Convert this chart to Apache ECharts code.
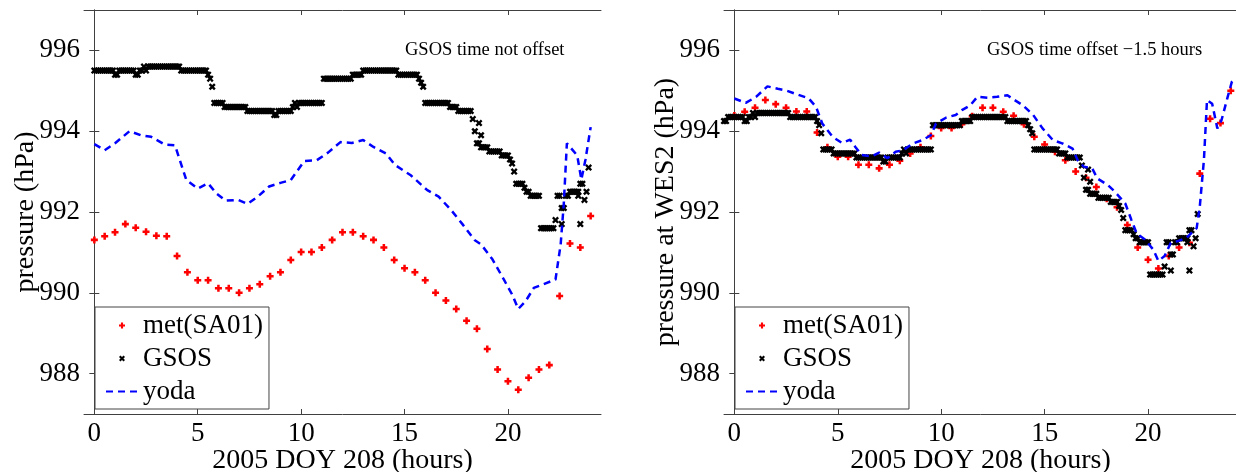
<!DOCTYPE html>
<html><head><meta charset="utf-8">
<script src="https://cdn.jsdelivr.net/npm/echarts@6/dist/echarts.min.js"></script>
<style>html,body{margin:0;padding:0;background:#fff}#c{width:1236px;height:472px}</style>
</head><body><div id="c"></div><script>
// ---------------- data ----------------
const xTicks = [0, 5, 10, 15, 20];
const yTicks = [988, 990, 992, 994, 996];

const metHours = [0,0.5,1,1.5,2,2.5,3,3.5,4,4.5,5,5.5,6,6.5,7,7.5,8,8.5,9,9.5,10,10.5,11,11.5,12,12.5,13,13.5,14,14.5,15,15.5,16,16.5,17,17.5,18,18.5,19,19.5,20,20.5,21,21.5,22,22.5,23,23.5,24];
const metLeft = [991.31,991.40,991.50,991.70,991.61,991.51,991.41,991.40,990.91,990.51,990.31,990.31,990.11,990.11,990.00,990.11,990.21,990.41,990.51,990.81,991.01,991.01,991.12,991.31,991.50,991.50,991.40,991.31,991.12,990.81,990.61,990.51,990.31,990.00,989.81,989.60,989.31,989.11,988.61,988.10,987.81,987.60,987.90,988.10,988.21,989.92,991.22,991.12,991.90];
const metRight = [994.39,994.48,994.58,994.77,994.67,994.58,994.49,994.49,993.97,993.60,993.37,993.37,993.17,993.17,993.08,993.17,993.27,993.45,993.60,993.88,994.08,994.08,994.17,994.37,994.58,994.58,994.48,994.38,994.17,993.86,993.67,993.49,993.28,993.00,992.85,992.62,992.33,992.12,991.68,991.12,990.82,990.60,990.91,991.12,991.24,992.95,994.31,994.20,995.00];

// GSOS samples every 0.1 h
const gsosStep = 0.1;
const gsosLeftStart = 0;      // time not offset
const gsosRightStart = -1.5;  // time offset -1.5 hours
const gsosLeft = [
995.5,995.5,995.5,995.5,995.5,995.5,995.5,995.5,995.5,995.5,
995.4,995.4,995.5,995.5,995.5,995.5,995.5,995.5,995.5,995.5,
995.4,995.4,995.5,995.5,995.6,995.5,995.6,995.6,995.6,995.6,
995.6,995.6,995.6,995.6,995.6,995.6,995.6,995.6,995.6,995.6,
995.6,995.6,995.5,995.5,995.5,995.5,995.5,995.5,995.5,995.5,
995.5,995.5,995.5,995.5,995.5,995.4,995.3,995.1,994.7,994.7,
994.7,994.7,994.7,994.6,994.6,994.6,994.6,994.6,994.6,994.6,
994.6,994.6,994.6,994.6,994.5,994.5,994.5,994.5,994.5,994.5,
994.5,994.5,994.5,994.5,994.5,994.5,994.5,994.4,994.4,994.5,
994.5,994.5,994.5,994.5,994.5,994.5,994.6,994.7,994.6,994.7,
994.7,994.7,994.7,994.7,994.7,994.7,994.7,994.7,994.7,994.7,
994.7,995.3,995.3,995.3,995.3,995.3,995.3,995.3,995.3,995.3,
995.3,995.3,995.3,995.3,995.3,995.4,995.4,995.4,995.4,995.4,
995.5,995.5,995.5,995.5,995.5,995.5,995.5,995.5,995.5,995.5,
995.5,995.5,995.5,995.5,995.5,995.5,995.5,995.4,995.4,995.4,
995.4,995.4,995.4,995.4,995.4,995.4,995.4,995.3,995.2,995.1,
994.7,994.7,994.7,994.7,994.7,994.7,994.7,994.7,994.7,994.7,
994.7,994.7,994.6,994.6,994.6,994.6,994.5,994.5,994.5,994.5,
994.5,994.5,994.5,994.3,994.0,993.7,993.7,993.6,993.6,993.6,
993.6,993.5,993.5,993.5,993.5,993.5,993.5,993.4,993.4,993.4,
993.4,993.3,993.2,993.0,992.7,992.7,992.7,992.7,992.6,992.5,
992.5,992.4,992.4,992.4,992.4,992.4,991.6,991.6,991.6,991.6,
991.6,991.6,991.6,991.8,992.4,992.4,992.1,992.1,992.4,992.4,
992.5,992.5,992.5,992.5,992.5,992.7,992.7,992.3,992.5,993.1];
const gsosLeftExtra = [[18.6,994.2],[18.7,993.9],[22.6,991.7],[23.4,992.4],[23.5,991.7]];
const gsosRight = [
994.35,994.35,994.35,994.35,994.35,994.35,994.35,994.35,994.35,994.35,
994.25,994.25,994.35,994.35,994.35,994.35,994.35,994.35,994.35,994.35,
994.25,994.25,994.35,994.35,994.45,994.35,994.45,994.45,994.45,994.45,
994.45,994.45,994.45,994.45,994.45,994.45,994.45,994.45,994.45,994.45,
994.45,994.45,994.35,994.35,994.35,994.35,994.35,994.35,994.35,994.35,
994.35,994.35,994.35,994.35,994.35,994.25,994.15,993.95,993.55,993.55,
993.55,993.55,993.55,993.45,993.45,993.45,993.45,993.45,993.45,993.45,
993.45,993.45,993.45,993.45,993.35,993.35,993.35,993.35,993.35,993.35,
993.35,993.35,993.35,993.35,993.35,993.35,993.35,993.25,993.25,993.35,
993.35,993.35,993.35,993.35,993.35,993.35,993.45,993.55,993.45,993.55,
993.55,993.55,993.55,993.55,993.55,993.55,993.55,993.55,993.55,993.55,
993.55,994.15,994.15,994.15,994.15,994.15,994.15,994.15,994.15,994.15,
994.15,994.15,994.15,994.15,994.15,994.25,994.25,994.25,994.25,994.25,
994.35,994.35,994.35,994.35,994.35,994.35,994.35,994.35,994.35,994.35,
994.35,994.35,994.35,994.35,994.35,994.35,994.35,994.25,994.25,994.25,
994.25,994.25,994.25,994.25,994.25,994.25,994.25,994.15,994.05,993.95,
993.55,993.55,993.55,993.55,993.55,993.55,993.55,993.55,993.55,993.55,
993.55,993.55,993.45,993.45,993.45,993.45,993.35,993.35,993.35,993.35,
993.35,993.35,993.35,993.15,992.85,992.55,992.55,992.45,992.45,992.45,
992.45,992.35,992.35,992.35,992.35,992.35,992.35,992.25,992.25,992.25,
992.25,992.15,992.05,991.85,991.55,991.55,991.55,991.55,991.45,991.35,
991.35,991.25,991.25,991.25,991.25,991.25,990.45,990.45,990.45,990.45,
990.45,990.45,990.45,990.65,991.25,991.25,990.95,990.95,991.25,991.25,
991.35,991.35,991.35,991.35,991.35,991.55,991.55,991.15,991.35,991.95];
const gsosRightExtra = [[17.1,993.05],[17.2,992.75],[21.1,990.55],[21.9,991.25],[22.0,990.55]];

const yodaLeft = [[0,993.68],[0.5,993.53],[1.0,993.70],[1.7,994.00],[2.25,993.90],[2.75,993.86],[3.4,993.67],[3.9,993.65],[4.45,992.79],[5.0,992.58],[5.5,992.71],[5.9,992.46],[6.35,992.28],[6.95,992.30],[7.4,992.20],[7.9,992.38],[8.45,992.63],[9.0,992.72],[9.5,992.79],[10.15,993.26],[10.75,993.28],[11.3,993.47],[11.9,993.73],[12.45,993.71],[13.0,993.78],[13.5,993.61],[14.1,993.45],[14.55,993.16],[15.3,992.91],[16.1,992.54],[16.65,992.38],[17.25,992.05],[17.8,991.70],[18.1,991.50],[18.4,991.30],[18.7,991.20],[19.25,990.83],[19.8,990.33],[20.2,989.96],[20.5,989.60],[20.85,989.79],[21.25,990.12],[21.7,990.21],[22.3,990.33],[22.55,991.20],[22.7,992.20],[22.85,993.70],[23.1,993.55],[23.35,993.40],[23.55,992.80],[23.75,993.30],[24.0,994.10]];
const yodaRight = [[0,994.81],[0.55,994.70],[1.05,994.85],[1.6,995.11],[2.1,995.05],[2.55,995.00],[3.1,994.90],[3.6,994.81],[3.95,994.60],[4.25,994.19],[4.75,993.86],[5.2,993.71],[5.6,993.79],[5.85,993.61],[6.15,993.41],[6.65,993.38],[7.0,993.47],[7.4,993.33],[7.8,993.49],[8.15,993.53],[8.65,993.70],[9.1,993.78],[9.5,993.90],[9.75,994.19],[10.25,994.34],[10.7,994.40],[11.0,994.52],[11.4,994.64],[11.75,994.85],[12.25,994.83],[12.7,994.85],[13.2,994.89],[13.55,994.77],[13.95,994.64],[14.45,994.40],[14.9,994.07],[15.4,993.78],[15.85,993.70],[16.35,993.57],[16.6,993.28],[16.9,993.12],[17.3,993.08],[17.55,992.83],[18.05,992.67],[18.4,992.50],[18.9,992.21],[19.2,991.80],[19.45,991.47],[19.85,991.32],[20.25,991.07],[20.5,990.79],[20.8,990.91],[21.1,991.24],[21.45,991.28],[21.85,991.36],[22.2,991.53],[22.35,991.60],[22.5,992.13],[22.7,993.28],[22.85,994.77],[23.1,994.68],[23.35,994.07],[23.55,994.27],[23.85,994.85],[24.05,995.22],[24.15,995.28]];

// ---------------- styling ----------------
const FONT = 'Liberation Serif';
const AX = '#404040';
const plusPath = 'path://M3.2,0H6.8V3.2H10V6.8H6.8V10H3.2V6.8H0V3.2H3.2Z';
const crossPath = 'path://M0,2.4L2.4,0L5,2.6L7.6,0L10,2.4L7.4,5L10,7.6L7.6,10L5,7.4L2.4,10L0,7.6L2.6,5Z';
const tickStyle = {fontSize:27, fontFamily:FONT, fontWeight:'normal', color:'#000'};
const nameStyle = {fontSize:28, fontFamily:FONT, fontWeight:'normal', color:'#000'};

function xAxes(g, max) {
  return [
    {gridIndex:g, type:'value', min:-0.5, max:max, position:'bottom',
     axisLine:{show:true, lineStyle:{color:AX, width:1}},
     axisTick:{show:true, inside:true, length:5, customValues:xTicks, lineStyle:{color:AX}},
     axisLabel:Object.assign({customValues:xTicks, margin:6}, tickStyle),
     splitLine:{show:false},
     name:'2005 DOY 208 (hours)', nameLocation:'middle', nameGap:33, nameMoveOverlap:false,
     nameTextStyle:nameStyle},
    {gridIndex:g, type:'value', min:-0.5, max:max, position:'top',
     axisLine:{show:true, lineStyle:{color:AX, width:1}},
     axisTick:{show:true, inside:true, length:5, customValues:xTicks, lineStyle:{color:AX}},
     axisLabel:{show:false}, splitLine:{show:false}}
  ];
}
function yAxes(g, name) {
  return [
    {gridIndex:g, type:'value', min:987, max:997, position:'left',
     axisLine:{show:true, lineStyle:{color:AX, width:1}},
     axisTick:{show:true, inside:true, length:5, customValues:yTicks, lineStyle:{color:AX}},
     axisLabel:Object.assign({customValues:yTicks, margin:4}, tickStyle),
     splitLine:{show:false},
     name:name, nameLocation:'middle', nameGap:44, nameMoveOverlap:false,
     nameTextStyle:nameStyle},
    {gridIndex:g, type:'value', min:987, max:997, position:'right',
     axisLine:{show:true, lineStyle:{color:AX, width:1}},
     axisTick:{show:true, inside:true, length:5, customValues:yTicks, lineStyle:{color:AX}},
     axisLabel:{show:false}, splitLine:{show:false}}
  ];
}
function gsosPoints(start, vals, extra) {
  return vals.map((v, i) => [+(start + i * gsosStep).toFixed(2), v]).concat(extra);
}
function seriesFor(g, met, gsosPts, yoda) {
  const xi = g * 2, yi = g * 2;
  return [
    {name:'met(SA01)', type:'scatter', xAxisIndex:xi, yAxisIndex:yi, clip:true,
     symbol:plusPath, symbolSize:7, itemStyle:{color:'#ff0000', opacity:1},
     data: metHours.map((h, i) => [h, met[i]]), z:2},
    {name:'GSOS', type:'scatter', xAxisIndex:xi, yAxisIndex:yi, clip:true,
     symbol:crossPath, symbolSize:7, itemStyle:{color:'#000000', opacity:1},
     data: gsosPts, z:3},
    {name:'yoda', type:'line', xAxisIndex:xi, yAxisIndex:yi, clip:true,
     symbol:'none', showSymbol:false, lineStyle:{color:'#0000ff', width:2.5, type:[7,5]},
     itemStyle:{color:'#0000ff'}, data: yoda, z:4}
  ];
}
function legendAt(left) {
  return {left:left, top:307, orient:'vertical', selectedMode:false,
    data:[{name:'met(SA01)', icon:plusPath}, {name:'GSOS', icon:crossPath},
          {name:'yoda', itemStyle:{opacity:0}}],
    itemWidth:32, itemHeight:6, itemGap:6, padding:[5,6,4,10],
    borderColor:'#444', borderWidth:1, backgroundColor:'#fff',
    textStyle:{fontSize:27, fontFamily:FONT, color:'#000'}};
}

const chart = echarts.init(document.getElementById('c'), null, {renderer:'canvas'});
chart.setOption({
  animation:false,
  backgroundColor:'#fff',
  textStyle:{fontFamily:FONT},
  title:[
    {text:'GSOS time not offset', left:405, top:41, padding:0,
     textStyle:{fontSize:18.5, fontWeight:'normal', fontFamily:FONT, color:'#000'}},
    {text:'GSOS time offset \u22121.5 hours', left:987, top:41, padding:0,
     textStyle:{fontSize:18.5, fontWeight:'normal', fontFamily:FONT, color:'#000'}}
  ],
  grid:[
    {left:84, top:10, width:517, height:404, show:false, containLabel:false, outerBoundsMode:'none'},
    {left:724, top:10, width:513, height:404, show:false, containLabel:false, outerBoundsMode:'none'}
  ],
  xAxis: xAxes(0, 24.5).concat(xAxes(1, 24.3)),
  yAxis: yAxes(0, 'pressure (hPa)').concat(yAxes(1, 'pressure at WES2 (hPa)')),
  legend:[legendAt(95), legendAt(735)],
  series: seriesFor(0, metLeft, gsosPoints(gsosLeftStart, gsosLeft, gsosLeftExtra), yodaLeft)
    .concat(seriesFor(1, metRight, gsosPoints(gsosRightStart, gsosRight, gsosRightExtra), yodaRight))
});
</script></body></html>
